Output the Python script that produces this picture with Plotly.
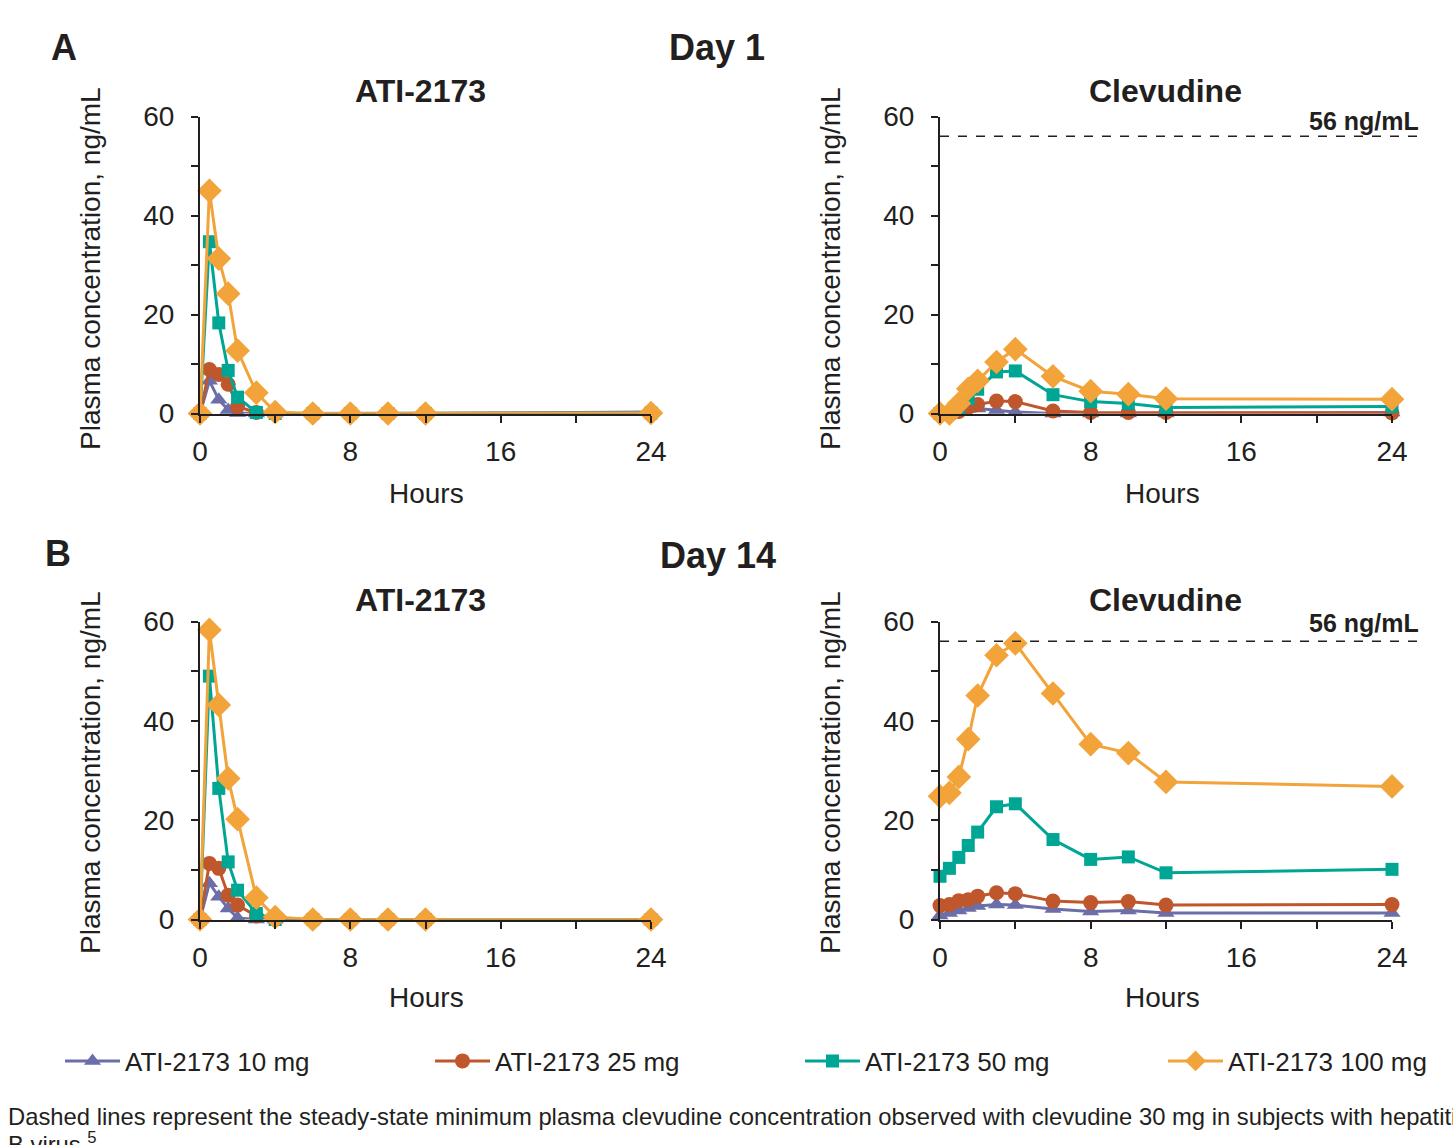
import plotly.graph_objects as go

W, H = 1453, 1145

hours = [0, 0.5, 1, 1.5, 2, 3, 4, 6, 8, 10, 12, 24]
series_names = ["ATI-2173 10 mg", "ATI-2173 25 mg", "ATI-2173 50 mg", "ATI-2173 100 mg"]

# Day 1 - ATI-2173
d1_ati_10 = [0, 6.6, 2.8, 0.7, 0.1, 0, 0, 0, 0, 0, 0, 0.3]
d1_ati_25 = [0, 8.9, 7.9, 5.9, 1.4, 0.2, 0, 0, 0, 0, 0, 0.1]
d1_ati_50 = [0, 34.7, 18.3, 8.7, 3.3, 0.2, 0, 0, 0, 0, 0, 0.1]
d1_ati_100 = [0, 45.0, 31.3, 24.2, 12.7, 4.2, 0.3, 0, 0, 0, 0, 0.1]

# Day 1 - Clevudine
d1_clv_10 = [0, 0, 0.3, 0.9, 1.0, 0.7, 0.3, 0, 0, 0, 0, 0.2]
d1_clv_25 = [0, 0, 0.4, 1.2, 1.8, 2.5, 2.4, 0.5, 0.2, 0.2, 0.2, 0.1]
d1_clv_50 = [0, 0, 1.2, 3.0, 4.9, 8.4, 8.6, 3.8, 2.4, 2.0, 1.2, 1.4]
d1_clv_100 = [0, 0, 2.0, 5.0, 6.6, 10.4, 13.0, 7.5, 4.5, 3.9, 3.0, 2.9]

# Day 14 - ATI-2173
d14_ati_10 = [0, 7.3, 4.6, 2.2, 0.3, 0, 0, 0, 0, 0, 0, 0]
d14_ati_25 = [0, 11.3, 10.3, 4.9, 2.9, 0.7, 0, 0, 0, 0, 0, 0]
d14_ati_50 = [0, 49.0, 26.4, 11.6, 5.9, 1.2, 0, 0, 0, 0, 0, 0]
d14_ati_100 = [0, 58.3, 43.2, 28.4, 20.2, 4.4, 0.5, 0, 0, 0, 0, 0]

# Day 14 - Clevudine
d14_clv_10 = [0.8, 1.3, 1.8, 2.3, 2.7, 3.0, 2.9, 2.1, 1.6, 1.8, 1.3, 1.3]
d14_clv_25 = [2.8, 3.0, 3.8, 4.0, 4.7, 5.4, 5.2, 3.7, 3.4, 3.6, 2.9, 3.0]
d14_clv_50 = [8.7, 10.3, 12.5, 14.9, 17.6, 22.7, 23.3, 16.1, 12.1, 12.6, 9.4, 10.1]
d14_clv_100 = [24.8, 25.5, 28.7, 36.3, 45.1, 53.2, 55.6, 45.5, 35.3, 33.5, 27.7, 26.8]

threshold = 56
x_ticks = [0, 4, 8, 12, 16, 20, 24]
x_ticktext = ["0", "", "8", "", "16", "", "24"]
y_ticks = [0, 10, 20, 30, 40, 50, 60]
y_ticktext = ["0", "", "20", "", "40", "", "60"]

colors = ["#6B6EA8", "#C0562B", "#00A694", "#F2A33A"]
symbols = ["triangle-up", "circle", "square", "diamond"]
msizes = [15, 15, 13, 19]

FONT = "Liberation Sans, Arial, sans-serif"

panels = [
    ("x", "y", [d1_ati_10, d1_ati_25, d1_ati_50, d1_ati_100]),
    ("x2", "y2", [d1_clv_10, d1_clv_25, d1_clv_50, d1_clv_100]),
    ("x3", "y3", [d14_ati_10, d14_ati_25, d14_ati_50, d14_ati_100]),
    ("x4", "y4", [d14_clv_10, d14_clv_25, d14_clv_50, d14_clv_100]),
]
legend_ids = ["legend", "legend2", "legend3", "legend4"]

fig = go.Figure()
for pi, (xa, ya, data) in enumerate(panels):
    for si, vals in enumerate(data):
        fig.add_trace(go.Scatter(
            x=hours, y=vals, xaxis=xa, yaxis=ya, mode="lines+markers",
            name=series_names[si], legendgroup=series_names[si],
            legend=legend_ids[si],
            showlegend=(pi == 0),
            line=dict(color=colors[si], width=3),
            marker=dict(symbol=symbols[si], size=msizes[si], color=colors[si]),
            cliponaxis=False,
        ))

def px_x(p):
    return p / W

def px_y(p):
    return 1 - p / H

left_dom = [px_x(200), px_x(651)]
right_dom = [px_x(940), px_x(1392)]
top_dom = [px_y(413.5), px_y(116.5)]
bot_dom = [px_y(919.5), px_y(621.5)]

axis_common = dict(showline=True, linecolor="#231F20", linewidth=2, ticks="outside",
                   ticklen=7, tickwidth=2, tickcolor="#231F20", showgrid=False,
                   zeroline=False, automargin=False,
                   tickfont=dict(family=FONT, size=28, color="#231F20"))

def xaxis(dom, anchor):
    d = dict(axis_common)
    d.update(domain=dom, anchor=anchor, range=[0, 24], tickmode="array",
             tickvals=x_ticks, ticktext=x_ticktext, ticklabelstandoff=5)
    return d

def yaxis(dom, anchor):
    d = dict(axis_common)
    d.update(domain=dom, anchor=anchor, range=[0, 60], tickmode="array",
             tickvals=y_ticks, ticktext=y_ticktext, ticklabelstandoff=11)
    return d

legend_x = [60, 430, 800, 1163]
legends = {}
for i, lid in enumerate(legend_ids):
    legends[lid] = dict(orientation="h", x=px_x(legend_x[i]), y=px_y(1061), xanchor="left",
                        yanchor="middle", font=dict(family=FONT, size=26, color="#231F20"),
                        itemwidth=55, bgcolor="rgba(0,0,0,0)", borderwidth=0)

fig.update_layout(
    width=W, height=H, margin=dict(l=0, r=0, t=0, b=0, pad=0, autoexpand=False),
    paper_bgcolor="white", plot_bgcolor="white",
    font=dict(family=FONT, color="#231F20"),
    xaxis=xaxis(left_dom, "y"), yaxis=yaxis(top_dom, "x"),
    xaxis2=xaxis(right_dom, "y2"), yaxis2=yaxis(top_dom, "x2"),
    xaxis3=xaxis(left_dom, "y3"), yaxis3=yaxis(bot_dom, "x3"),
    xaxis4=xaxis(right_dom, "y4"), yaxis4=yaxis(bot_dom, "x4"),
    **legends,
)

# threshold dashed lines
for ya in ["y2", "y4"]:
    fig.add_shape(type="line", xref="paper", yref=ya, x0=px_x(940), x1=px_x(1426),
                  y0=threshold, y1=threshold, line=dict(color="#231F20", width=1.5, dash="dash"))

ann = []
def add(text, x, y, size, bold=False, xanchor="center", angle=0):
    t = f"<b>{text}</b>" if bold else text
    ann.append(dict(text=t, x=px_x(x), y=px_y(y), xref="paper", yref="paper",
                    xanchor=xanchor, yanchor="middle", showarrow=False, textangle=angle,
                    font=dict(family=FONT, size=size, color="#231F20")))

add("A", 64, 48, 36, True)
add("B", 58, 553, 36, True)
add("Day 1", 717, 48, 36, True)
add("Day 14", 718, 555, 36, True)
for yy in (91, 600):
    add("ATI-2173", 420, yy, 32, True)
    add("Clevudine", 1165, yy, 32, True)
add("56 ng/mL", 1421, 121, 25, True, xanchor="right")
add("56 ng/mL", 1421, 623, 25, True, xanchor="right")
for yy in (494, 997):
    add("Hours", 426, yy, 28)
    add("Hours", 1162, yy, 28)
for yy in (269, 773):
    add("Plasma concentration, ng/mL", 90, yy, 28, angle=-90)
    add("Plasma concentration, ng/mL", 830, yy, 28, angle=-90)

add("Dashed lines represent the steady-state minimum plasma clevudine concentration observed with clevudine 30 mg in subjects with hepatitis",
    6, 1116, 23.8, xanchor="left")
add("B virus.<sup>5</sup>", 6, 1143, 23.8, xanchor="left")

fig.update_layout(annotations=ann)

fig.write_html("out.html", config={"displayModeBar": False},
               post_script="document.body.style.margin='0';document.documentElement.style.overflow='hidden';")
